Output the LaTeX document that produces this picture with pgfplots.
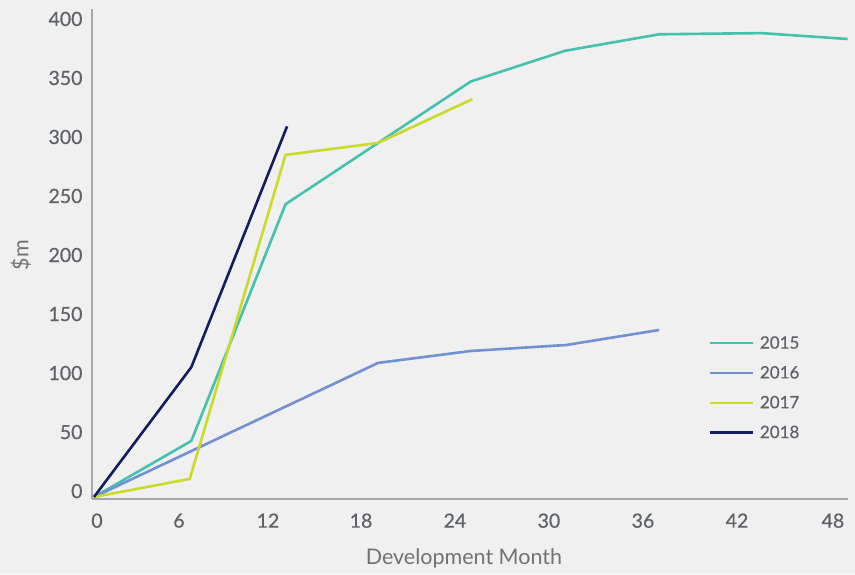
\documentclass[border=0pt]{standalone}
\usepackage{fontspec}
\setmainfont{Lato}
\newfontfamily\tickfont[FakeBold=0.6]{Lato}
\usepackage{pgfplots}
\pgfplotsset{compat=1.18}
\definecolor{bg}{HTML}{F0F0F0}
\definecolor{axisgray}{HTML}{A5A8AB}
\definecolor{tickgray}{HTML}{5F6368}
\definecolor{labgray}{HTML}{707376}
\definecolor{cA}{HTML}{45C1AE}
\definecolor{cB}{HTML}{7191D2}
\definecolor{cC}{HTML}{C9DA2A}
\definecolor{cD}{HTML}{161D5E}
\begin{document}
\begin{tikzpicture}
\fill[bg] (-92pt,-75pt) rectangle (763pt,499pt);
\begin{axis}[
  at={(0pt,0pt)}, anchor=south west,
  scale only axis, width=756pt, height=489.5pt,
  xmin=-0.127, xmax=48.03, ymin=-1.7, ymax=413,
  axis lines=left,
  axis line style={draw=axisgray, line width=2pt, -},
  major tick length=0pt, tick style={draw=none},
  xtick={0.19,5.41,11.08,17.01,22.99,28.98,34.97,40.96,47.07},
  xticklabels={0,6,12,18,24,30,36,42,48},
  ytick={5,55,105,155,205,255,305,355,405},
  yticklabels={0,50,100,150,200,250,300,350,400},
  tick label style={font=\tickfont\fontsize{19.5}{22}\selectfont, text=tickgray},
  xticklabel style={yshift=-11pt},
  yticklabel style={xshift=-6pt},
  xlabel={Development Month},
  ylabel={\$m},
  label style={font=\fontsize{21.5}{24}\selectfont, text=labgray},
  every axis x label/.append style={at={(axis description cs:0.492,-0.1205)}, anchor=center},
  every axis y label/.append style={at={(axis description cs:-0.094,0.498)}, anchor=center, rotate=0},
  legend style={at={(axis description cs:0.811,0.341)}, anchor=north west, draw=none, fill=none,
    font=\tickfont\fontsize{17}{20}\selectfont, text=tickgray, row sep=12pt,
    /tikz/every odd column/.append style={column sep=4pt}},
  legend cell align=left,
  legend image code/.code={\draw[#1, line width=2.6pt] (0pt,0pt) -- (43pt,0pt);},
  clip=false,
  every axis plot/.append style={line width=2.6pt, mark=none, line join=round},
]
\addplot[cA] coordinates {(0,0) (6.2,47.5) (12.2,248) (18.1,300) (24,352) (30,378) (36,392) (42.5,393) (48,388)};
\addlegendentry{2015}
\addplot[cB] coordinates {(0,0) (18.1,113.6) (24,123.7) (30.1,128.8) (36,141.5)};
\addlegendentry{2016}
\addplot[cC] coordinates {(0,0) (6.1,15.3) (12.2,289.8) (18.1,300) (24.1,337)};
\addlegendentry{2017}
\addplot[cD] coordinates {(0,0) (6.2,110) (12.3,314)};
\addlegendentry{2018}
\end{axis}
\pgfresetboundingbox
\useasboundingbox (-92pt,-75pt) rectangle (763pt,499pt);
\end{tikzpicture}
\end{document}
